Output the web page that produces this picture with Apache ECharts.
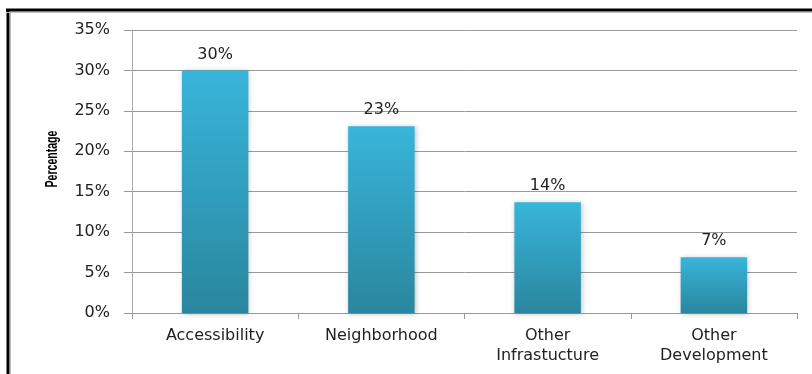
<!DOCTYPE html>
<html>
<head>
<meta charset="utf-8">
<script src="https://cdn.jsdelivr.net/npm/echarts@6/dist/echarts.min.js"></script>
<style>
html,body{margin:0;padding:0;background:#fff;}
#chart{width:812px;height:374px;}
</style>
</head>
<body>
<div id="chart"></div>
<script>
var categories = ['Accessibility', 'Neighborhood', 'Other\nInfrastucture', 'Other\nDevelopment'];
var values = [30.0, 23.1, 13.7, 6.9];
var yTicks = [0, 5, 10, 15, 20, 25, 30, 35];
var yTitle = 'Percentage';

var chart = echarts.init(document.getElementById('chart'), null, {renderer: 'canvas'});
var font = 'DejaVu Sans';
chart.setOption({
  animation: false,
  backgroundColor: '#fff',
  grid: {left: 132, right: 15, top: 30, bottom: 61},
  graphic: [
    {type: 'line', shape: {x1: 6, y1: 10, x2: 812, y2: 10}, style: {stroke: '#000', lineWidth: 3}},
    {type: 'line', shape: {x1: 8, y1: 9, x2: 8, y2: 374}, style: {stroke: '#000', lineWidth: 3}},
    {type: 'line', shape: {x1: 6, y1: 12.5, x2: 812, y2: 12.5}, style: {stroke: '#bbb', lineWidth: 1}},
    {type: 'line', shape: {x1: 10.5, y1: 12, x2: 10.5, y2: 374}, style: {stroke: '#bbb', lineWidth: 1}},
    {
      type: 'text', x: 52, y: 159, rotation: Math.PI / 2, scaleX: 0.62,
      style: {text: yTitle, fontFamily: 'Liberation Sans', fontWeight: 'bold', fontSize: 17, fill: '#000', align: 'center', verticalAlign: 'middle'}
    }
  ],
  xAxis: {
    type: 'category',
    data: categories,
    axisLine: {lineStyle: {color: '#999', width: 1}},
    axisTick: {show: true, length: 6, lineStyle: {color: '#999'}},
    axisLabel: {fontFamily: font, fontSize: 16, color: '#222', margin: 13, lineHeight: 20, interval: 0}
  },
  yAxis: {
    type: 'value',
    min: yTicks[0],
    max: yTicks[yTicks.length - 1],
    interval: 5,
    axisLine: {show: true, lineStyle: {color: '#aaa', width: 1}},
    axisTick: {show: true, length: 8, inside: false, lineStyle: {color: '#999'}},
    splitLine: {show: true, lineStyle: {color: '#999', width: 1}},
    axisLabel: {fontFamily: font, fontSize: 16, color: '#222', margin: 22, formatter: function (v) { return v + '%'; }}
  },
  series: [{
    type: 'bar',
    data: values,
    barWidth: '40%',
    itemStyle: {
      color: new echarts.graphic.LinearGradient(0, 0, 0, 1, [
        {offset: 0, color: '#38b5db'},
        {offset: 1, color: '#2a869e'}
      ]),
      shadowBlur: 5,
      shadowColor: 'rgba(0,0,0,0.25)',
      shadowOffsetX: 1,
      shadowOffsetY: 1
    },
    label: {
      show: true,
      position: 'top',
      distance: 8,
      fontFamily: font,
      fontSize: 16,
      color: '#222',
      formatter: function (p) { return Math.round(p.value) + '%'; }
    }
  }]
});
</script>
</body>
</html>
